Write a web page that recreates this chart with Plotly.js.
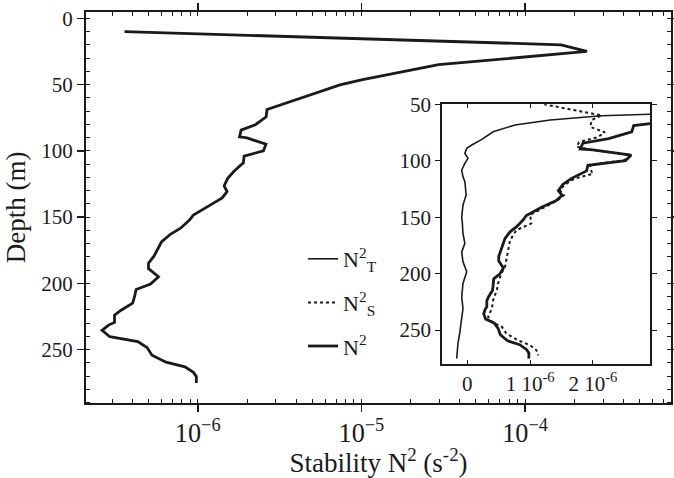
<!DOCTYPE html>
<html>
<head>
<meta charset="utf-8">
<script src="https://cdn.plot.ly/plotly-3.0.1.min.js"></script>
<style>html,body{margin:0;padding:0;background:#fff;}#chart{width:674px;height:478px;}</style>
</head>
<body>
<div id="chart"></div>
<script>
// Total stability N^2 (s^-2) vs depth (m) — main panel (log x) and inset (linear x)
const depthN2 = [10, 20, 25, 35, 39, 46.5, 50.3, 60.3, 65.4, 68.8, 74.3, 80.3, 84.4, 89.5, 90.3, 95, 100, 104, 109, 115.6, 121, 126.5, 130.7, 135.5, 141, 148.5, 152.3, 158.4, 163, 168.8, 179.5, 184.8, 188.8, 195, 200.5, 204.6, 210.5, 214.9, 220.3, 224, 229.5, 231.5, 235.5, 240.3, 243.9, 248.5, 254.2, 259.5, 263, 267.2, 270.3, 275.3];
const valN2 = [3.57e-7, 1.66e-4, 2.39e-4, 2.96e-5, 2.04e-5, 1.0e-5, 7.4e-6, 4.28e-6, 3.16e-6, 2.65e-6, 2.62e-6, 2.25e-6, 1.84e-6, 1.8e-6, 2.0e-6, 2.61e-6, 2.52e-6, 1.92e-6, 1.9e-6, 1.66e-6, 1.52e-6, 1.45e-6, 1.51e-6, 1.41e-6, 1.19e-6, 9.4e-7, 8.9e-7, 7.85e-7, 6.8e-7, 6.0e-7, 5.4e-7, 5.0e-7, 5.0e-7, 5.75e-7, 5.15e-7, 4.2e-7, 4.1e-7, 4.0e-7, 3.4e-7, 3.1e-7, 3.1e-7, 2.85e-7, 2.6e-7, 2.9e-7, 4.3e-7, 4.9e-7, 5.25e-7, 6.4e-7, 8.35e-7, 9.4e-7, 9.8e-7, 9.8e-7];

// Thermal contribution N^2_T (s^-2)
const depthT = [58.3, 60.1, 63.9, 68.3, 74.3, 81.1, 86.1, 89, 93.5, 97.9, 102.3, 108.2, 114.2, 118.6, 124, 130.4, 139.3, 149.6, 155, 164.4, 173.2, 180.8, 189.5, 198.4, 208.7, 220.6, 230.9, 241.3, 252, 262, 275.2];
const valT = [3.2e-6, 2.14e-6, 1.32e-6, 7.6e-7, 4.1e-7, 2.3e-7, 7e-8, -1e-8, -4e-8, 1e-8, -4e-8, -9e-8, -7e-8, -4e-8, -3e-8, -2e-8, -7e-8, -9e-8, -8e-8, -7e-8, -4e-8, -9e-8, -7e-8, -1e-8, -7e-8, -9e-8, -7e-8, -9e-8, -1.2e-7, -1.5e-7, -1.7e-7];

// Haline contribution N^2_S (s^-2)
const depthS = [50, 53.6, 59.8, 64, 70, 74.8, 79, 83.5, 87.6, 90, 95, 99.5, 103.8, 109.7, 111.5, 116, 121.5, 126, 130.5, 135, 141, 148, 155.5, 161.5, 170.4, 179.2, 188, 194, 199.9, 208.7, 214.6, 223.5, 230.9, 238.3, 242.8, 247.2, 253.1, 259.1, 263.5, 267.9, 272.4];
const valS = [1.22e-6, 1.58e-6, 2.14e-6, 1.98e-6, 1.96e-6, 2.19e-6, 2.08e-6, 1.78e-6, 1.74e-6, 1.95e-6, 2.6e-6, 2.5e-6, 1.95e-6, 1.98e-6, 2.0e-6, 1.7e-6, 1.55e-6, 1.47e-6, 1.54e-6, 1.44e-6, 1.23e-6, 1.0e-6, 1.02e-6, 7.8e-7, 6.8e-7, 6.5e-7, 6.2e-7, 6.0e-7, 5.4e-7, 4.9e-7, 4.7e-7, 4.1e-7, 3.9e-7, 3.3e-7, 3.9e-7, 5.5e-7, 6.2e-7, 8.1e-7, 1.0e-6, 1.1e-6, 1.13e-6];

// Tick labels
const mainDepthTicks = [0, 50, 100, 150, 200, 250];
const insetDepthTicks = [50, 100, 150, 200, 250];
const insetXTickVals = [0, 1e-6, 2e-6];
const insetXTickText = ['0', '1 10<sup>-6</sup>', '2 10<sup>-6</sup>'];

const INK = '#1a1a1a';
const FONT = 'Liberation Serif, Times New Roman, serif';

const traces = [
  {x: valT, y: depthT, xaxis: 'x2', yaxis: 'y2', mode: 'lines', name: 'N<sup>2</sup><sub>T</sub>',
   legendgroup: 'a', line: {color: INK, width: 1.6}, hoverinfo: 'skip'},
  {x: valS, y: depthS, xaxis: 'x2', yaxis: 'y2', mode: 'lines', name: 'N<sup>2</sup><sub>S</sub>',
   legendgroup: 'b', line: {color: INK, width: 2, dash: '3px,3px'}, hoverinfo: 'skip'},
  {x: valN2, y: depthN2, xaxis: 'x2', yaxis: 'y2', mode: 'lines', name: 'N<sup>2</sup>',
   legendgroup: 'c', line: {color: INK, width: 2.8}, hoverinfo: 'skip'},
  {x: valN2, y: depthN2, xaxis: 'x', yaxis: 'y', mode: 'lines', name: 'N2 main', showlegend: false,
   line: {color: INK, width: 2.8}, hoverinfo: 'skip'}
];

const axisCommon = {showline: true, linecolor: INK, linewidth: 2, showgrid: false, zeroline: false,
  tickcolor: INK, tickfont: {family: FONT, size: 21, color: INK}};

const layout = {
  width: 674, height: 478,
  margin: {l: 86, r: 3, t: 12, b: 75},
  paper_bgcolor: '#fff', plot_bgcolor: 'rgba(0,0,0,0)',
  font: {family: FONT, color: INK},
  showlegend: true,
  legend: {x: 0.371, y: 0.422, xanchor: 'left', yanchor: 'top', bgcolor: 'rgba(0,0,0,0)',
    font: {family: FONT, size: 22, color: INK}, tracegroupgap: 12, traceorder: 'grouped'},
  xaxis: Object.assign({}, axisCommon, {
    type: 'log', range: [-6.683, -3.108], domain: [0, 1], anchor: 'y',
    mirror: 'ticks', ticks: 'outside', ticklen: 7, tickwidth: 1.5, dtick: 1,
    exponentformat: 'power',
    minor: {ticks: 'inside', ticklen: 4, tickwidth: 1, tickcolor: INK, dtick: 'D1'},
    title: {text: 'Stability N<sup>2</sup> (s<sup>-2</sup>)', font: {family: FONT, size: 27, color: INK}, standoff: 14}
  }),
  yaxis: Object.assign({}, axisCommon, {
    range: [290.3, -4.75], domain: [0, 1], anchor: 'x',
    mirror: 'ticks', ticks: 'outside', ticklen: 7, tickwidth: 1.5,
    tickvals: mainDepthTicks,
    minor: {ticks: 'inside', ticklen: 4, tickwidth: 1, tickcolor: INK, dtick: 10},
    title: {text: 'Depth (m)', font: {family: FONT, size: 27, color: INK}, standoff: 8}
  }),
  xaxis2: Object.assign({}, axisCommon, {
    range: [-0.4e-6, 2.91e-6], domain: [0.609, 0.9641], anchor: 'y2',
    mirror: 'ticks', ticks: 'inside', ticklen: 4, tickwidth: 1,
    tickvals: insetXTickVals, ticktext: insetXTickText
  }),
  yaxis2: Object.assign({}, axisCommon, {
    range: [280.1, 50], domain: [0.0997, 0.7639], anchor: 'x2',
    mirror: 'ticks', ticks: 'outside', ticklen: 5, tickwidth: 1,
    tickvals: insetDepthTicks
  })
};

Plotly.newPlot('chart', traces, layout, {displayModeBar: false, staticPlot: true});
</script>
</body>
</html>
